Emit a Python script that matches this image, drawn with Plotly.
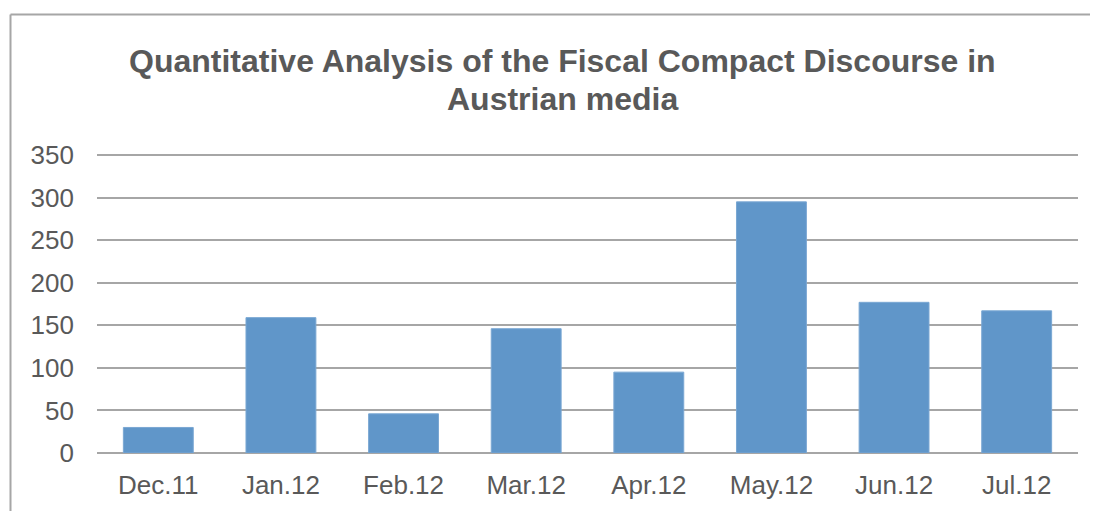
import plotly.graph_objects as go

categories = ["Dec.11", "Jan.12", "Feb.12", "Mar.12", "Apr.12", "May.12", "Jun.12", "Jul.12"]
values = [30, 159, 46, 146, 95, 295, 177, 167]
y_ticks = [0, 50, 100, 150, 200, 250, 300, 350]
title_lines = ["Quantitative Analysis of the Fiscal Compact Discourse in", "Austrian media"]

OFF = 8  # default body margin of the html page
W, H = 1098 - OFF, 511 - OFF
ML, MR, MT, MB = 89, 20, 145, 58
pw = W - ML - MR
ph = H - MT - MB

def px_x(x):
    return (x - OFF - ML) / pw

def px_y(y):
    return (H - MB - (y - OFF)) / ph

FONT = "Liberation Sans, Arial, sans-serif"
GREY = "#595959"

fig = go.Figure(go.Bar(
    x=categories, y=values,
    marker=dict(color="#6096C9", line=dict(color="#7AA7D3", width=1)),
))

fig.update_layout(
    width=W, height=H,
    margin=dict(l=ML, r=MR, t=MT, b=MB),
    paper_bgcolor="white", plot_bgcolor="white",
    bargap=0.43,
    showlegend=False,
    font=dict(family=FONT, color=GREY, size=26),
    xaxis=dict(showgrid=False, showline=False, ticks="", ticklabelstandoff=14,
               tickfont=dict(size=26, color=GREY)),
    yaxis=dict(range=[0, 352.4], tickvals=y_ticks, showgrid=True, gridcolor="#A6A6A6", gridwidth=2,
               zeroline=True, zerolinecolor="#A6A6A6", zerolinewidth=2,
               ticks="", ticklabelstandoff=22, tickfont=dict(size=26, color=GREY)),
    annotations=[
        dict(text="<b>%s</b>" % title_lines[0], xref="paper", yref="paper",
             x=px_x(562.5), y=px_y(61), xanchor="center", yanchor="middle", showarrow=False,
             font=dict(size=32, color=GREY, family=FONT)),
        dict(text="<b>%s</b>" % title_lines[1], xref="paper", yref="paper",
             x=px_x(562.5), y=px_y(99), xanchor="center", yanchor="middle", showarrow=False,
             font=dict(size=32, color=GREY, family=FONT)),
    ],
    shapes=[
        dict(type="line", xref="paper", yref="paper", x0=px_x(10.5), x1=px_x(1110), y0=px_y(14.5), y1=px_y(14.5),
             line=dict(color="#A6A6A6", width=2)),
        dict(type="line", xref="paper", yref="paper", x0=px_x(10.5), x1=px_x(10.5), y0=px_y(14.5), y1=px_y(520),
             line=dict(color="#A6A6A6", width=2)),
    ],
)

fig.write_html("out.html")
